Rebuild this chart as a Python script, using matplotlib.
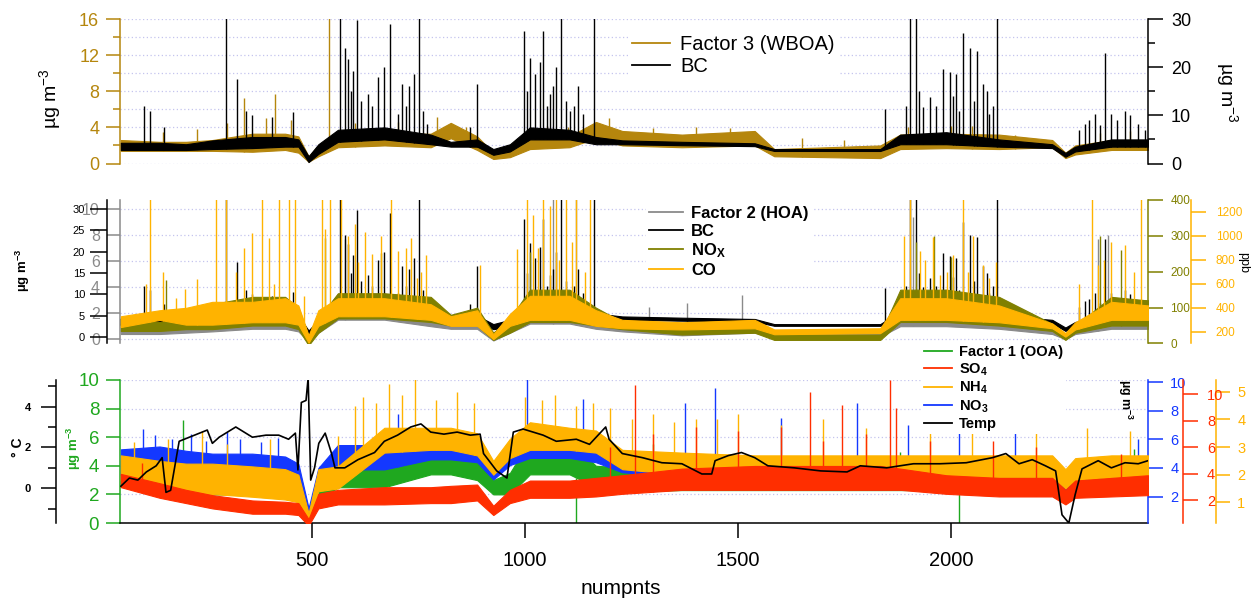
import numpy as np
import matplotlib
matplotlib.use('Agg')
import matplotlib.pyplot as plt
from matplotlib.lines import Line2D
from matplotlib.ticker import MultipleLocator

plt.rcParams['font.family'] = ['Liberation Sans', 'DejaVu Sans']
plt.rcParams['mathtext.default'] = 'regular'

# ---------------- data ----------------
# sample positions (numpnts) shared by all the banded series; each series is
# given as the low / high edge of the dense part of its noisy trace at these
# positions, plus the isolated spikes that stick out of it
knots = [50, 141, 203, 265, 359, 436, 467, 491, 514, 560, 669, 778, 825, 887, 925, 964,
         1011, 1104, 1166, 1228, 1368, 1539, 1585, 1834, 1881, 1989, 2113, 2238, 2269, 2292, 2377, 2463]

# panel 1 : Factor 3 (WBOA), left axis ug/m3
wboa_lo = [1.4, 1.4, 1.4, 1.4, 1.3, 1.5, 1.2, 0.2, 0.8, 1.8, 2.0, 1.8, 2.8, 1.5, 0.5, 0.7,
           1.6, 1.8, 2.8, 2.0, 1.8, 2.0, 0.8, 0.6, 1.6, 1.7, 1.6, 1.8, 0.6, 1.0, 1.5, 1.5]
wboa_hi = [2.6, 2.4, 2.4, 2.6, 3.3, 3.3, 3.0, 0.8, 2.0, 3.2, 3.3, 3.3, 4.5, 3.0, 1.2, 1.5,
           2.9, 3.0, 4.6, 3.6, 3.2, 3.6, 1.6, 2.0, 3.2, 3.3, 3.2, 2.6, 1.2, 2.0, 2.6, 2.6]
wboa_spk_x = [150, 230, 300, 340, 390, 413, 450, 539, 600, 700, 793, 860, 1050, 1100, 1197,
              1300, 1400, 1480, 1650, 1750, 1900, 2000, 2050, 2150, 2350, 2420]
wboa_spk_top = [3.5, 3.8, 4.5, 7.3, 5.0, 7.7, 4.8, 17, 4.5, 4.6, 5.1, 4.0, 4.2, 4.0, 5.0,
                3.9, 4.0, 3.9, 2.8, 2.6, 4.0, 4.1, 4.2, 3.2, 3.4, 3.6]

# BC (black carbon), right axis of panel 1 and black axis of panel 2
bc_lo = [2.8, 2.8, 2.8, 3.0, 3.2, 3.5, 3.5, 0.3, 2.0, 4.5, 5.0, 4.0, 3.5, 3.5, 1.8, 2.5,
         5.0, 5.0, 4.0, 4.0, 3.8, 3.6, 2.6, 2.6, 4.0, 4.0, 3.5, 3.2, 1.4, 2.5, 3.5, 3.5]
bc_hi = [4.3, 4.3, 4.0, 4.8, 5.5, 5.5, 5.0, 1.5, 4.0, 7.0, 7.5, 6.0, 4.5, 5.0, 3.0, 4.0,
         7.5, 7.0, 5.5, 4.8, 4.5, 4.2, 3.0, 3.0, 6.0, 6.5, 5.0, 4.0, 2.2, 3.5, 5.0, 5.0]
bc_spk_x = [105, 118, 152, 296, 324, 343, 359, 405, 455, 565, 576, 584, 590, 595, 604, 615,
            630, 640, 655, 669, 682, 700, 711, 720, 727, 739, 750, 760, 770, 871, 887, 998,
            1005, 1011, 1023, 1034, 1042, 1050, 1057, 1065, 1073, 1085, 1095, 1104, 1115,
            1125, 1135, 1161, 1845, 1895, 1904, 1919, 1925, 1935, 1950, 1965, 1981, 1997,
            2005, 2012, 2020, 2028, 2044, 2055, 2062, 2075, 2085, 2090, 2100, 2109, 2300,
            2315, 2325, 2339, 2350, 2362, 2377, 2390, 2409, 2420, 2440, 2455]
bc_spk_top = [12, 11, 7.6, 34, 17.6, 11, 10, 9.7, 10.6, 34, 24, 21.7, 15, 19.3, 29.7, 13,
              14.5, 12, 18, 20, 29, 10.3, 16.6, 12, 16, 18.6, 34, 11, 8.3, 7.6, 16.6, 27.6,
              15, 22, 18.6, 21, 27.6, 12, 14.5, 16, 20, 34, 13, 11, 12,
              16, 10.3, 34, 11.4, 12, 34, 34, 15, 11.7, 13.8, 12, 19.7, 19,
              14, 18.6, 11, 27, 24, 13, 23.4, 16.6, 15, 10.3, 12, 34, 7,
              8.3, 9, 10.3, 8, 23, 10.3, 9, 11, 10, 8.3, 7]

# panel 2 : Factor 2 (HOA), NOx (ppb), CO (ppb)
hoa_lo = [0.4, 0.4, 0.5, 0.6, 0.8, 0.8, 0.6, -0.2, 0.5, 1.5, 1.5, 1.0, 0.8, 0.8, -0.1, 0.5,
          1.2, 1.2, 0.8, 0.6, 0.3, 0.5, 0.2, 0.2, 1.0, 1.0, 0.8, 0.4, 0.0, 0.4, 0.8, 0.8]
hoa_hi = [1.2, 1.0, 1.2, 2.0, 2.5, 2.5, 2.0, 0.3, 1.5, 3.5, 3.5, 3.0, 1.8, 2.0, 0.5, 1.5,
          3.5, 3.5, 2.0, 1.2, 1.2, 1.5, 0.6, 0.5, 3.5, 3.8, 3.0, 1.0, 0.4, 1.0, 3.0, 3.0]
hoa_spk_x = [576, 1065, 1120, 1290, 1380, 1510, 1912, 2346, 2370]
hoa_spk_top = [7.7, 11, 11, 2.5, 2.8, 3.4, 9.4, 7.7, 8.0]

nox_lo = [35, 35, 40, 40, 50, 50, 40, -5, 30, 70, 70, 60, 50, 50, 10, 30,
          60, 60, 50, 40, 25, 30, 10, 10, 60, 60, 50, 35, 10, 30, 50, 50]
nox_hi = [70, 60, 70, 110, 130, 130, 100, 20, 70, 140, 140, 130, 80, 100, 30, 70,
          150, 150, 100, 60, 50, 60, 25, 25, 150, 150, 130, 55, 25, 50, 130, 120]
nox_spk_x = [157, 529, 661, 1011, 1919, 1960, 2000, 2350, 2400]
nox_spk_top = [177, 293, 251, 256, 284, 300, 240, 300, 260]

co_lo = [240, 300, 260, 260, 280, 280, 260, 110, 250, 330, 330, 300, 250, 250, 140, 250,
         300, 300, 250, 230, 220, 230, 180, 190, 300, 300, 280, 230, 160, 220, 300, 300]
co_hi = [330, 380, 400, 450, 450, 480, 420, 170, 380, 480, 480, 430, 330, 380, 180, 350,
         500, 500, 380, 300, 280, 300, 220, 230, 480, 480, 420, 270, 190, 280, 450, 420]
co_spk_x = [110, 118, 150, 180, 200, 230, 273, 296, 320, 340, 359, 382, 397, 410, 421, 444,
            460, 480, 522, 529, 542, 568, 584, 600, 607, 623, 640, 661, 685, 700, 720, 731,
            745, 755, 767, 894, 980, 1003, 1019, 1030, 1042, 1057, 1073, 1080, 1096, 1110,
            1120, 1140, 1151, 1890, 1904, 1927, 1940, 1958, 1974, 1990, 2005, 2028, 2040,
            2051, 2075, 2090, 2106, 2300, 2331, 2346, 2360, 2377, 2409, 2430, 2447]
co_spk_top = [600, 1350, 700, 480, 560, 640, 1350, 1350, 700, 900, 1020, 1350, 980, 600, 1350, 1350,
              1350, 500, 1350, 1060, 1350, 1350, 1000, 1100, 780, 1030, 850, 1000, 1350, 870, 900, 980,
              650, 700, 840, 760, 890, 1350, 1170, 900, 1350, 1250, 1350, 800, 1350, 950,
              1350, 700, 1350, 1000, 1350, 870, 800, 990, 670, 700, 840, 1350, 700,
              1000, 760, 650, 780, 600, 1350, 760, 800, 950, 920, 700, 1350]

# panel 3 : Factor 1 (OOA), SO4, NH4, NO3 (ug/m3) and temperature (C)
ooa_lo = [2.7, 2.4, 2.0, 2.0, 2.0, 2.0, 1.5, 0.0, 1.5, 2.5, 2.5, 3.4, 3.4, 3.0, 2.0, 2.0,
          3.4, 3.4, 2.5, 2.2, 2.3, 2.3, 2.3, 2.3, 2.3, 2.3, 2.3, 2.3, 1.9, 2.3, 2.3, 2.3]
ooa_hi = [4.4, 4.2, 3.9, 3.8, 3.8, 3.6, 3.2, 0.5, 3.0, 4.6, 4.6, 5.3, 5.3, 5.0, 3.0, 3.5,
          5.8, 5.8, 4.0, 3.9, 3.9, 3.7, 3.7, 3.7, 3.7, 3.5, 3.4, 3.4, 3.0, 3.4, 3.4, 3.4]
ooa_spk_x = [195, 1120, 1300, 1880, 2020, 2430]
ooa_spk_top = [7.2, 0.0, 5.5, 5.0, 0.0, 5.2]

so4_lo = [3.0, 2.2, 1.8, 1.4, 1.0, 1.0, 0.9, 0.1, 1.4, 1.7, 1.7, 1.8, 1.8, 2.0, 0.9, 1.8,
          2.2, 2.2, 2.3, 2.5, 2.8, 2.8, 2.8, 2.8, 2.8, 2.5, 2.3, 2.3, 1.7, 2.2, 2.3, 2.4]
so4_hi = [4.0, 3.3, 2.8, 2.4, 2.0, 1.9, 1.8, 0.6, 2.5, 2.8, 3.0, 3.0, 3.1, 3.2, 1.6, 2.8,
          3.5, 3.5, 3.7, 3.9, 4.4, 4.6, 4.6, 4.6, 4.4, 3.9, 3.7, 3.7, 2.8, 3.5, 3.7, 3.9]
so4_spk_x = [100, 1200, 1259, 1300, 1400, 1500, 1600, 1668, 1700, 1745, 1800, 1857, 1872,
             1950, 2100, 2200, 2400]
so4_spk_top = [4.8, 6.0, 10.7, 7.0, 7.5, 7.2, 7.5, 10.2, 6.5, 9.2, 7.0, 11.1, 9.0,
               6.5, 6.5, 6.0, 5.5]

nh4_lo = [1.8, 1.5, 1.3, 1.3, 1.2, 1.1, 1.0, 0.2, 1.4, 1.5, 2.8, 2.9, 2.9, 2.7, 2.0, 2.6,
          2.9, 2.9, 2.8, 2.2, 2.0, 1.9, 1.9, 1.9, 1.9, 1.9, 1.9, 1.9, 1.5, 1.8, 1.9, 1.9]
nh4_hi = [2.7, 2.5, 2.4, 2.4, 2.3, 2.2, 2.0, 0.6, 2.2, 2.3, 3.7, 3.7, 3.7, 3.5, 2.5, 3.3,
          3.9, 3.7, 3.6, 2.9, 2.8, 2.7, 2.7, 2.7, 2.7, 2.7, 2.7, 2.7, 2.2, 2.6, 2.7, 2.7]
nh4_spk_x = [80, 160, 240, 300, 400, 560, 600, 620, 650, 680, 710, 740, 790, 840, 880, 1000,
             1040, 1070, 1120, 1160, 1200, 1250, 1300, 1350, 1400, 1450, 1500, 1600, 1700,
             1800, 1950, 2050, 2200, 2320, 2420]
nh4_spk_top = [3.2, 3.3, 3.6, 3.1, 3.3, 3.4, 4.5, 4.8, 4.6, 5.3, 4.9, 5.5, 4.7, 5.0, 4.6, 4.8,
               4.7, 4.9, 4.5, 4.6, 4.4, 4.0, 4.2, 3.9, 4.0, 4.0, 4.2, 3.8, 4.0,
               3.7, 4.2, 3.8, 3.6, 3.7, 3.6]

no3_lo = [3.5, 3.5, 3.4, 3.3, 3.3, 3.1, 2.8, 0.3, 3.2, 3.9, 3.9, 4.6, 4.6, 4.4, 3.2, 4.2,
          4.7, 4.7, 4.4, 3.7, 3.4, 2.8, 2.7, 2.5, 2.6, 2.5, 2.5, 2.5, 1.7, 2.4, 2.5, 2.5]
no3_hi = [5.3, 5.5, 5.2, 5.0, 5.0, 4.8, 4.3, 1.2, 4.0, 5.6, 5.6, 5.9, 5.9, 5.7, 4.3, 5.8,
          6.8, 6.6, 6.2, 5.2, 4.9, 4.2, 4.0, 3.8, 4.0, 3.8, 3.8, 3.8, 2.8, 3.8, 3.8, 3.8]
no3_spk_x = [102, 130, 170, 215, 250, 300, 330, 380, 420, 700, 1003, 1135, 1376, 1446, 1600,
             1780, 1900, 2020, 2150, 2440]
no3_spk_top = [6.7, 6.3, 6.0, 6.4, 5.9, 6.5, 6.0, 5.8, 6.1, 7.8, 10.2, 8.8, 8.5, 9.6, 7.5,
               8.5, 7.0, 6.7, 6.5, 6.0]

temp_x = [50, 70, 90, 110, 133, 147, 156, 167, 187, 253, 265, 281, 320, 359, 391, 421, 444,
          460, 466, 474, 485, 490, 496, 505, 515, 530, 545, 553, 576, 607, 646, 669, 700,
          731, 755, 778, 809, 840, 871, 894, 902, 933, 957, 972, 995, 1042, 1073, 1120,
          1151, 1189, 1197, 1228, 1275, 1321, 1368, 1415, 1438, 1446, 1477, 1508, 1539,
          1570, 1632, 1694, 1756, 1787, 1849, 1912, 1974, 2036, 2098, 2129, 2160, 2191,
          2222, 2246, 2261, 2277, 2292, 2308, 2346, 2377, 2409, 2440, 2463]
temp_c = [0.1, 0.5, 0.4, 0.8, 1.1, 1.5, -0.2, -0.1, 2.3, 2.85, 2.2, 2.5, 3.0, 2.5, 2.6, 2.6, 2.4,
          2.7, 0.9, 4.2, 4.3, 5.4, 0.4, 1.0, 2.2, 2.7, 1.7, 1.0, 1.0, 1.4, 1.75, 2.3, 2.6,
          3.0, 3.15, 2.75, 2.65, 2.75, 2.6, 2.65, 1.7, 0.85, 0.5, 2.75, 2.9, 2.6, 2.3, 2.4,
          2.15, 3.0, 2.4, 1.7, 1.5, 1.25, 1.2, 0.7, 0.7, 1.35, 1.6, 1.75, 1.5,
          1.1, 1.0, 0.85, 0.8, 1.1, 1.0, 1.2, 1.2, 1.25, 1.5, 1.7, 1.2, 1.4,
          1.1, 0.85, -1.3, -1.7, -0.3, 0.95, 1.35, 1.0, 1.25, 1.2, 1.35]

x_ticks = [500, 1000, 1500, 2000]

# ---------------- colours ----------------
BROWN = '#B5860D'
GREY = '#8A8A8A'
OLIVE = '#808000'
GOLD = '#FFB300'
GREEN = '#1FA81F'
RED = '#FF2E00'
BLUE = '#1438FF'
GRID = '#C4C4EE'

fig = plt.figure(figsize=(12.55, 6.06), dpi=100)
W_PX = 1028


def panel(top, bottom):
    return fig.add_axes([120 / 1255, 1 - bottom / 606, W_PX / 1255, (bottom - top) / 606])


def yaxis_style(ax, side, color, pos=None, size=12, major=10, minor=5, pad=4):
    for s in ax.spines.values():
        s.set_visible(False)
    sp = ax.spines[side]
    sp.set_visible(True)
    sp.set_color(color)
    sp.set_linewidth(1.1)
    if pos is not None:
        sp.set_position(('axes', pos))
    if side == 'left':
        ax.yaxis.tick_left()
    else:
        ax.yaxis.tick_right()
    ax.tick_params(axis='y', which='both', direction='out', color=color, labelcolor=color,
                   width=1.1, labelsize=size, pad=pad)
    ax.tick_params(axis='y', which='major', length=major)
    ax.tick_params(axis='y', which='minor', length=minor)
    ax.tick_params(axis='x', which='both', bottom=False, top=False, labelbottom=False)


def band(ax, lo, hi, color, spx=(), spy=(), z=2):
    ax.fill_between(knots, lo, hi, color=color, lw=0.8, zorder=z)
    if len(spx):
        foot = np.interp(spx, knots, lo)
        ax.vlines(spx, foot, spy, color=color, lw=1.0, zorder=z)


def legend(ax, colors, labels, x, y, size, bold=False, hl=1.9):
    handles = [Line2D([], [], color=c, lw=1.3) for c in colors]
    prop = {'size': size, 'weight': 'bold' if bold else 'normal'}
    ax.legend(handles, labels, loc='upper left', bbox_to_anchor=(x / 1255, 1 - y / 606),
              bbox_transform=fig.transFigure, prop=prop, frameon=True, fancybox=False,
              edgecolor='none', facecolor='white', framealpha=1, handlelength=hl,
              handletextpad=0.5, labelspacing=0.15, borderpad=0.2, borderaxespad=0)


XLIM = (48, 2463)

# ---------------- panel 1 ----------------
ax1 = panel(19, 163.5)
ax1.set_xlim(*XLIM)
ax1.set_ylim(0, 16)
band(ax1, wboa_lo, wboa_hi, BROWN, wboa_spk_x, wboa_spk_top)
yaxis_style(ax1, 'left', BROWN, size=13, major=10, minor=5, pad=5)
ax1.yaxis.set_major_locator(MultipleLocator(4))
ax1.yaxis.set_minor_locator(MultipleLocator(2))
ax1.grid(axis='y', which='both', color=GRID, ls=(0, (1, 2)), lw=0.9)
ax1.set_axisbelow(True)

ax1r = ax1.twinx()
ax1r.set_ylim(0, 30)
band(ax1r, bc_lo, bc_hi, 'black', bc_spk_x, bc_spk_top)
yaxis_style(ax1r, 'right', 'black', size=13, major=11, minor=5, pad=5.5)
ax1r.yaxis.set_major_locator(MultipleLocator(10))
ax1r.yaxis.set_minor_locator(MultipleLocator(5))
legend(ax1r, [BROWN, 'black'], ['Factor 3 (WBOA)', 'BC'], 628, 31, 14.5)

fig.text(50 / 1255, 1 - 99 / 606, 'µg m$^{-3}$', rotation=90, ha='center', va='center', fontsize=14)
fig.text(1227 / 1255, 1 - 92 / 606, 'µg m$^{-3}$', rotation=270, ha='center', va='center', fontsize=14)

# ---------------- panel 2 ----------------
ax2 = panel(200, 343.5)
ax2.set_xlim(*XLIM)
ax2.set_ylim(-0.33, 10.7)
band(ax2, hoa_lo, hoa_hi, GREY, hoa_spk_x, hoa_spk_top)
yaxis_style(ax2, 'left', GREY, size=11.5, major=9.5, pad=5)
ax2.yaxis.set_major_locator(MultipleLocator(2))
ax2.grid(axis='y', which='major', color=GRID, ls=(0, (1, 2)), lw=0.9)
ax2.set_axisbelow(True)

ax2b = ax2.twinx()
ax2b.set_ylim(-1.55, 32.1)
band(ax2b, bc_lo, bc_hi, 'black', bc_spk_x, bc_spk_top)
yaxis_style(ax2b, 'left', 'black', pos=-13.3 / W_PX, size=8, major=12, pad=3.5)
ax2b.yaxis.set_major_locator(MultipleLocator(5))

ax2n = ax2.twinx()
ax2n.set_ylim(0, 400)
band(ax2n, nox_lo, nox_hi, OLIVE, nox_spk_x, nox_spk_top)
yaxis_style(ax2n, 'right', OLIVE, size=8.5, major=11, pad=5)
ax2n.yaxis.set_major_locator(MultipleLocator(100))

ax2c = ax2.twinx()
ax2c.set_ylim(103, 1298)
band(ax2c, co_lo, co_hi, GOLD, co_spk_x, co_spk_top)
yaxis_style(ax2c, 'right', GOLD, pos=1 + 43.3 / W_PX, size=8.5, major=11, pad=6.5)
ax2c.yaxis.set_major_locator(MultipleLocator(200))
legend(ax2c, [GREY, 'black', OLIVE, GOLD], ['Factor 2 (HOA)', 'BC', 'NO$_X$', 'CO'],
       646, 203, 12, bold=True, hl=2.0)

fig.text(23 / 1255, 1 - 270 / 606, 'µg m$^{-3}$', rotation=90, ha='center', va='center',
         fontsize=9.5, fontweight='bold')
fig.text(1243 / 1255, 1 - 262 / 606, 'ppb', rotation=270, ha='center', va='center', fontsize=9)

# ---------------- panel 3 ----------------
ax3 = panel(380, 523)
ax3.set_xlim(*XLIM)
ax3.set_ylim(0, 10)
band(ax3, ooa_lo, ooa_hi, GREEN, ooa_spk_x, ooa_spk_top)
yaxis_style(ax3, 'left', GREEN, size=13.5, major=10, pad=5)
ax3.yaxis.set_major_locator(MultipleLocator(2))
ax3.grid(axis='y', which='major', color=GRID, ls=(0, (1, 2)), lw=0.9)
ax3.set_axisbelow(True)
ax3.spines['bottom'].set_visible(True)
ax3.spines['bottom'].set_linewidth(1.1)
ax3.set_xticks(x_ticks)
ax3.tick_params(axis='x', which='major', bottom=True, labelbottom=True, direction='out',
                length=11, width=1.1, labelsize=14.5, pad=9)

ax3b = ax3.twinx()
ax3b.set_ylim(0.16, 10.14)
band(ax3b, no3_lo, no3_hi, BLUE, no3_spk_x, no3_spk_top)
yaxis_style(ax3b, 'right', BLUE, size=10.5, major=11, pad=5)
ax3b.set_yticks([2, 4, 6, 8, 10])

ax3o = ax3.twinx()
ax3o.set_ylim(0.25, 5.43)
band(ax3o, nh4_lo, nh4_hi, GOLD, nh4_spk_x, nh4_spk_top)
yaxis_style(ax3o, 'right', GOLD, pos=1 + 67.7 / W_PX, size=10.5, major=10, pad=5.5)
ax3o.set_yticks([1, 2, 3, 4, 5])

ax3r = ax3.twinx()
ax3r.set_ylim(0.3, 11.08)
band(ax3r, so4_lo, so4_hi, RED, so4_spk_x, so4_spk_top)
yaxis_style(ax3r, 'right', RED, pos=1 + 35.3 / W_PX, size=10.5, major=11, pad=6)
ax3r.set_yticks([2, 4, 6, 8, 10])

ax3t = ax3.twinx()
ax3t.set_ylim(-1.7, 5.3)
ax3t.plot(temp_x, temp_c, color='black', lw=1.2, zorder=3)
yaxis_style(ax3t, 'left', 'black', pos=-64 / W_PX, size=8, major=11, minor=6, pad=7)
ax3t.set_yticks([0, 2, 4], labels=['0', '2', '4'], fontweight='bold')
ax3t.yaxis.set_minor_locator(MultipleLocator(1))
legend(ax3t, [GREEN, RED, GOLD, BLUE, 'black'],
       ['Factor 1 (OOA)', 'SO$_4$', 'NH$_4$', 'NO$_3$', 'Temp'], 921, 342, 10.5, bold=True, hl=1.9)

fig.text(18 / 1255, 1 - 447 / 606, '° C', rotation=90, ha='center', va='center',
         fontsize=10, fontweight='bold')
fig.text(74 / 1255, 1 - 448 / 606, 'µg m$^{-3}$', rotation=90, ha='center', va='center',
         fontsize=9.5, fontweight='bold', color=GREEN)
fig.text(1125 / 1255, 1 - 400 / 606, 'µg m$^{-3}$', rotation=270, ha='center', va='center',
         fontsize=9, fontweight='bold')
fig.text(621 / 1255, 1 - 589 / 606, 'numpnts', ha='center', va='center', fontsize=15)

fig.savefig('out.png', dpi=100)
